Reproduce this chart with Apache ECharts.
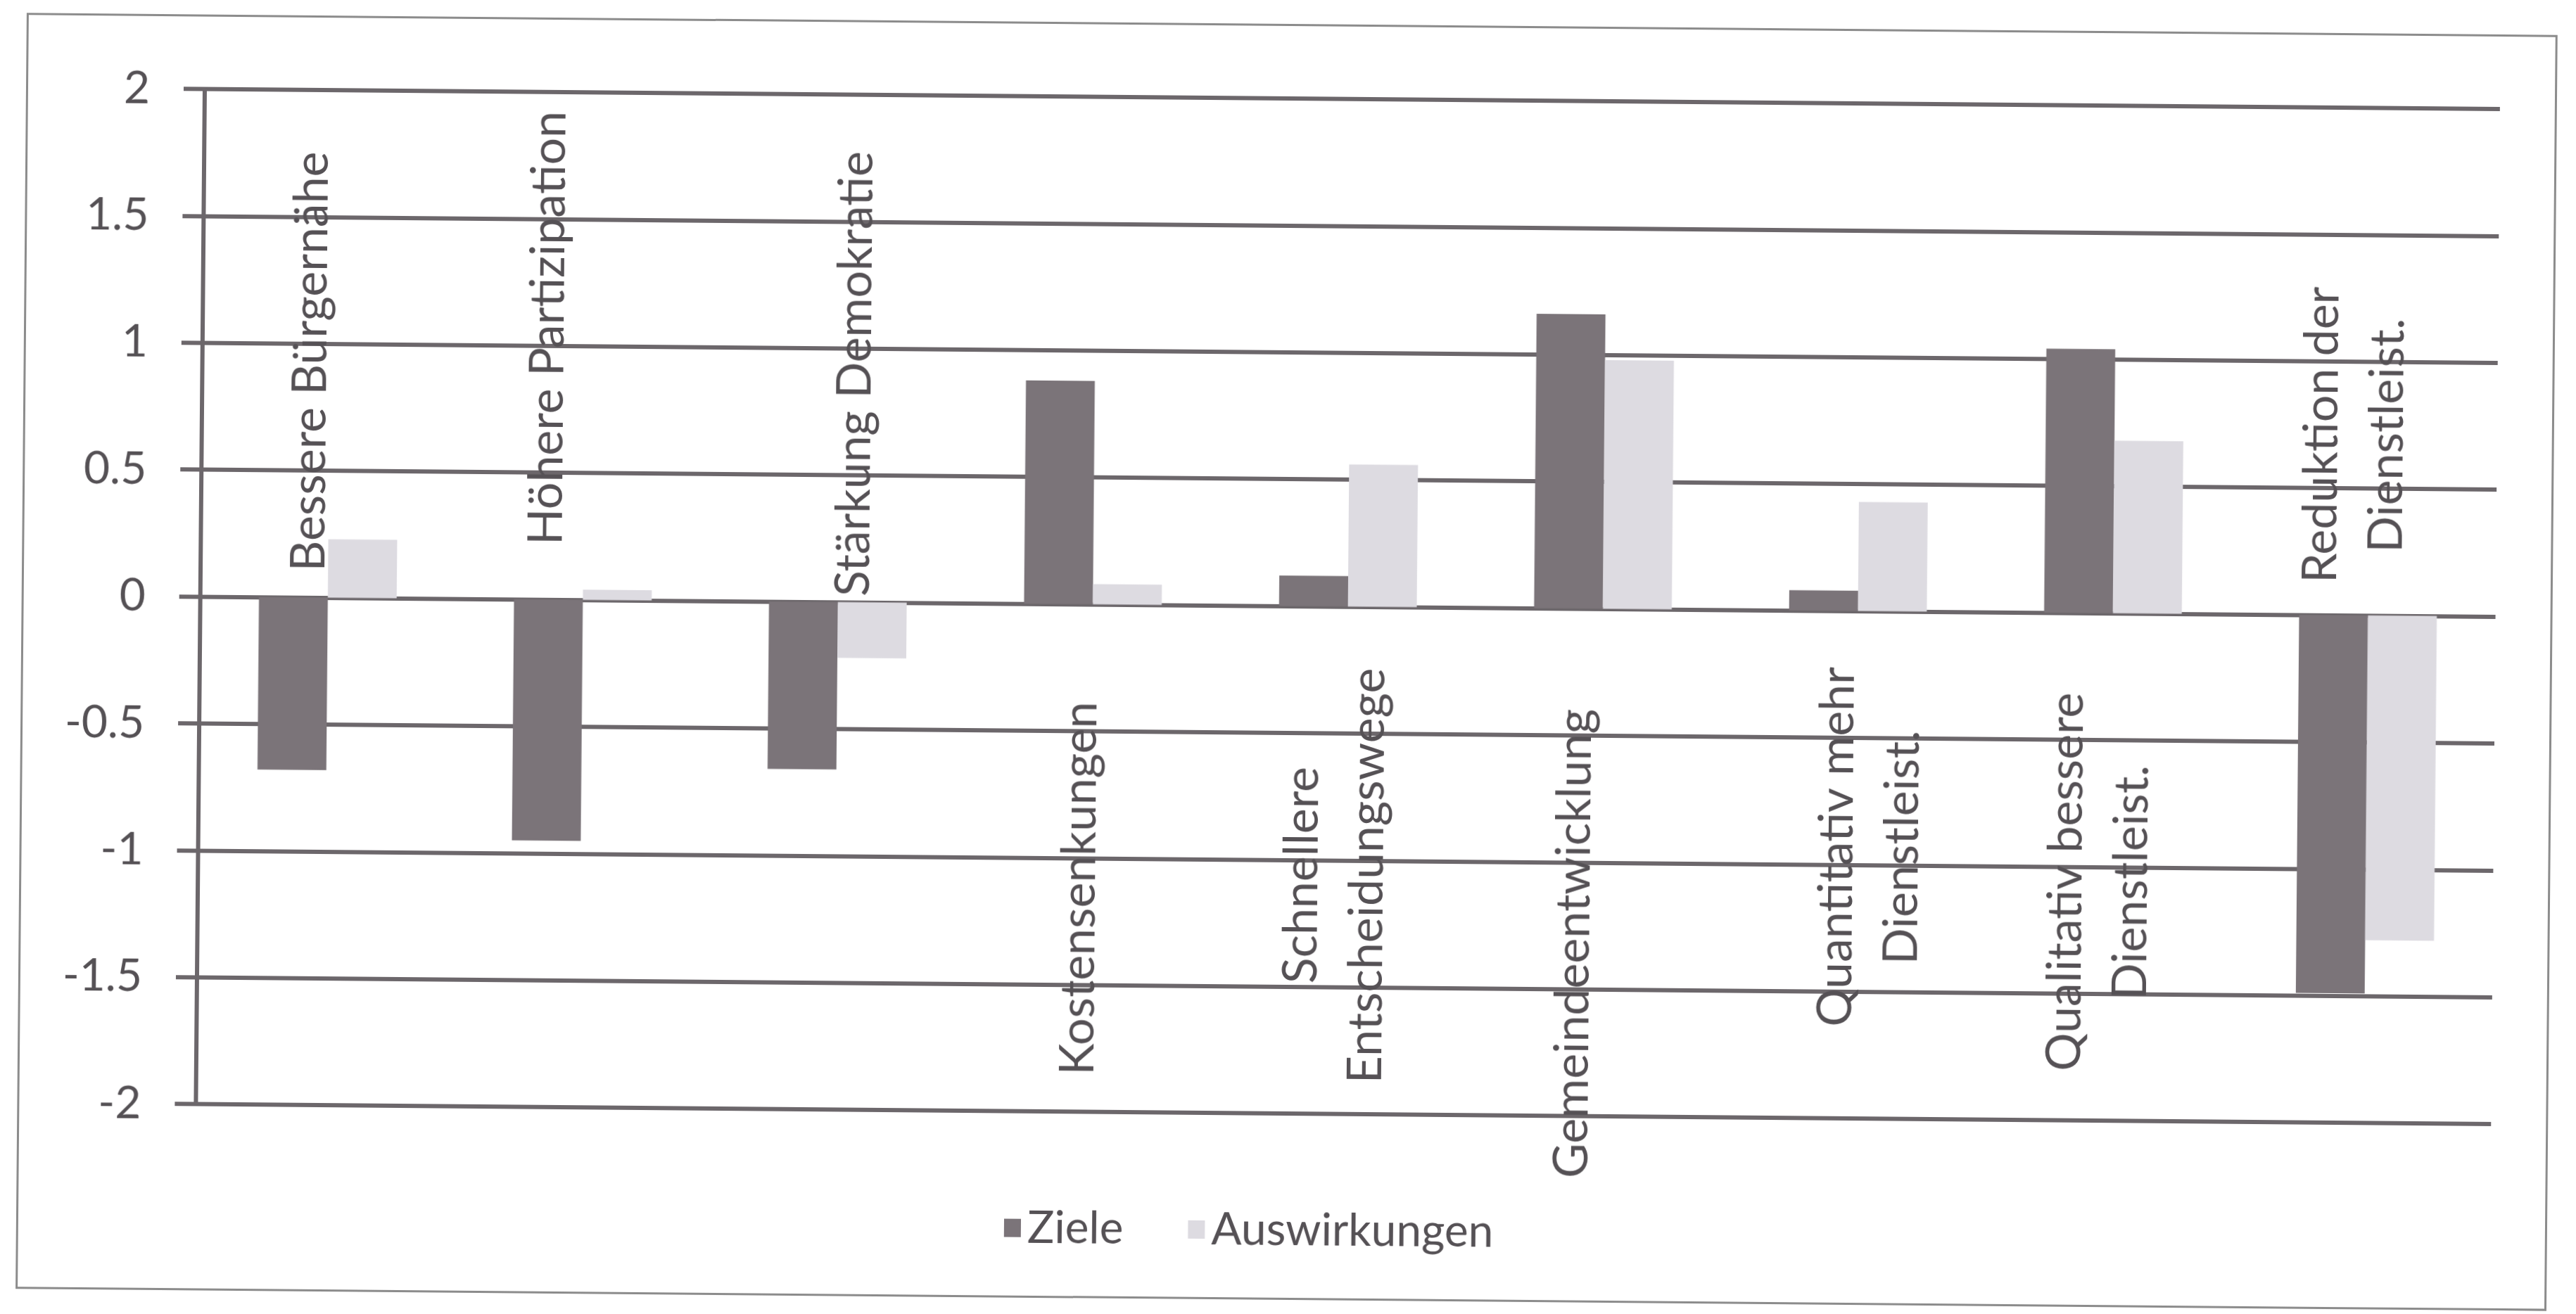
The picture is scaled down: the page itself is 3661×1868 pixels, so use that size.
<!DOCTYPE html>
<html>
<head>
<meta charset="utf-8">
<script src="https://cdn.jsdelivr.net/npm/echarts@6/dist/echarts.min.js"></script>
<style>
  html, body { margin: 0; padding: 0; background: #ffffff; }
  #page { position: absolute; left: 0; top: 0; width: 3661px; height: 1868px;
          transform: rotate(0.5deg); transform-origin: 1830px 934px; }
  #frame { position: absolute; left: 30px; top: 34px; width: 3597px; height: 1814px;
           border: 3px solid #8c8c8c; box-sizing: border-box; }
  #chart { position: absolute; left: 0; top: 0; width: 3661px; height: 1868px; }
</style>
</head>
<body>
<div id="page">
  <div id="frame"></div>
  <div id="chart"></div>
</div>
<script>
// Categories (line breaks as printed in the category labels)
const categories = [
  'Bessere Bürgernähe',
  'Höhere Partizipation',
  'Stärkung Demokratie',
  'Kostensenkungen',
  'Schnellere\nEntscheidungswege',
  'Gemeindeentwicklung',
  'Quantitativ mehr\nDienstleist.',
  'Qualitativ bessere\nDienstleist.',
  'Reduktion der\nDienstleist.'
];

// Series values
const ziele        = [-0.68, -0.95, -0.66, 0.88, 0.12, 1.16, 0.08, 1.04, -1.49];
const auswirkungen = [ 0.23,  0.04, -0.22, 0.08, 0.56, 0.98, 0.43, 0.68, -1.28];

// Value axis ticks
const yTicks = { min: -2, max: 2, interval: 0.5 };

// Category label placement: centre of each label block on the value axis,
// and a small horizontal shift (px) from the category centre
const labelCenter = [0.93, 1.07, 0.90, -1.12, -1.06, -1.32, -0.93, -1.06, 0.71];
const labelShift  = [-27, -53, 22, -15, -15, -37, 20, -17, -21];

const FONT = 'Lato, "Open Sans", sans-serif';
const TEXT = '#555155';
const GRID = '#6c676b';

const chart = echarts.init(document.getElementById('chart'), null, { renderer: 'canvas' });

chart.setOption({
  animation: false,
  backgroundColor: 'transparent',
  grid: { left: 284, right: 115, top: 140, bottom: 285, containLabel: false },
  legend: {
    data: ['Ziele', 'Auswirkungen'],
    left: 1429,
    top: 1712,
    icon: 'rect',
    itemWidth: 24,
    itemHeight: 26,
    itemGap: 92,
    textStyle: { fontFamily: FONT, fontSize: 64, color: TEXT, padding: [0, 0, 0, 4] }
  },
  xAxis: {
    type: 'category',
    data: categories,
    axisLine: { show: false },
    axisTick: { show: false },
    axisLabel: { show: false },
    splitLine: { show: false }
  },
  yAxis: {
    type: 'value',
    min: yTicks.min,
    max: yTicks.max,
    interval: yTicks.interval,
    axisLine: { show: true, lineStyle: { color: GRID, width: 6 } },
    axisTick: { show: true, inside: false, length: 30, lineStyle: { color: GRID, width: 6 } },
    axisLabel: { margin: 78, fontFamily: FONT, fontSize: 64, color: TEXT },
    splitLine: { show: true, lineStyle: { color: GRID, width: 6 } }
  },
  series: [
    {
      name: 'Ziele',
      type: 'bar',
      data: ziele,
      barGap: '0%',
      barCategoryGap: '46%',
      itemStyle: { color: '#7b7479' }
    },
    {
      name: 'Auswirkungen',
      type: 'bar',
      data: auswirkungen,
      barGap: '0%',
      barCategoryGap: '46%',
      itemStyle: { color: '#dddbe1' }
    },
    {
      // vertical category labels, placed on the value scale
      name: 'Kategorien',
      type: 'custom',
      silent: true,
      z: 10,
      data: categories.map((c, i) => i),
      renderItem: function (params, api) {
        const i = params.dataIndex;
        const p = api.coord([i, labelCenter[i]]);
        return {
          type: 'text',
          x: p[0] + labelShift[i],
          y: p[1],
          rotation: Math.PI / 2,
          style: {
            text: categories[i],
            fontFamily: FONT,
            fontSize: 68,
            lineHeight: 93,
            fill: TEXT,
            align: 'center',
            verticalAlign: 'middle'
          }
        };
      }
    }
  ]
});
</script>
</body>
</html>
